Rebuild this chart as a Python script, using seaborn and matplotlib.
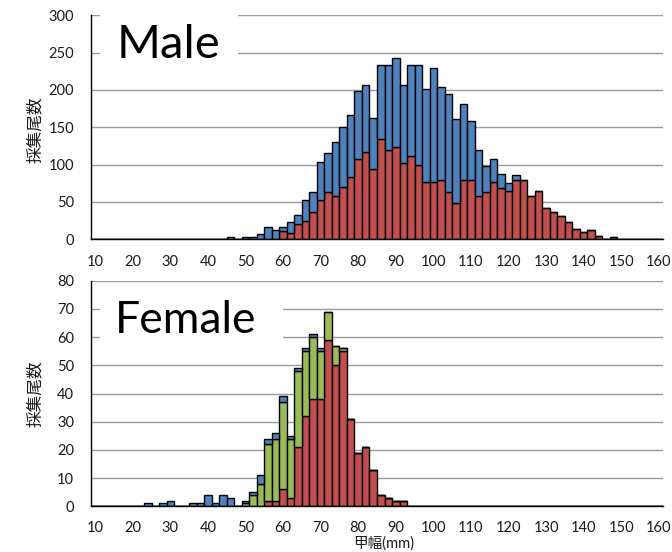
import numpy as np
import pandas as pd
import matplotlib
matplotlib.use("Agg")
import matplotlib.pyplot as plt
from matplotlib.patches import Rectangle
import seaborn as sns

# Carapace width classes: lower edge of each 2 mm bin, with catch counts
male_red_bins = [60, 62, 64, 66, 68, 70, 72, 74, 76, 78, 80, 82, 84, 86, 88, 90,
                 92, 94, 96, 98, 100, 102, 104, 106, 108, 110, 112, 114, 116, 118,
                 120, 122, 124, 126, 128, 130, 132, 134, 136, 138, 140, 142, 144,
                 146, 148, 152, 156]
male_red = [11, 9, 20, 25, 36, 52, 63, 58, 70, 83, 107, 117, 94, 135, 120, 124,
            102, 112, 99, 77, 77, 80, 64, 48, 80, 80, 58, 64, 77, 69,
            65, 80, 80, 58, 65, 42, 36, 31, 23, 14, 10, 12, 5,
            1, 3, 1, 1]

male_blue_bins = [22, 30, 34, 40, 42, 44, 46, 48, 50, 52, 54, 56, 58, 60, 62, 64,
                  66, 68, 70, 72, 74, 76, 78, 80, 82, 84, 86, 88, 90, 92, 94, 96,
                  98, 100, 102, 104, 106, 108, 110, 112, 114, 116, 118, 120, 122]
male_blue = [1, 1, 1, 1, 1, 1, 3, 1, 3, 3, 7, 17, 13, 6, 14, 12,
             27, 27, 51, 53, 72, 80, 84, 91, 90, 69, 99, 113, 119, 105, 122, 135,
             124, 152, 124, 130, 113, 101, 78, 61, 34, 30, 19, 10, 6]

female_red_bins = [56, 58, 60, 62, 64, 66, 68, 70, 72, 74, 76, 78, 80, 82, 84,
                   86, 88, 90, 92]
female_red = [2, 2, 6, 3, 21, 32, 38, 38, 59, 50, 55, 31, 19, 21, 13,
              4, 3, 2, 2]

female_green_bins = [50, 52, 54, 56, 58, 60, 62, 64, 66, 68, 70, 72, 74, 76]
female_green = [1, 4, 8, 20, 22, 31, 21, 27, 23, 22, 17, 10, 7, 1]

female_blue_bins = [24, 28, 30, 36, 38, 40, 42, 44, 46, 50, 52, 54, 56, 58,
                    60, 62, 64, 66, 68, 70]
female_blue = [1, 1, 2, 1, 1, 4, 1, 4, 3, 1, 1, 3, 2, 2,
               2, 1, 1, 1, 1, 1]

x_ticks = list(range(10, 161, 10))
male_y_ticks = list(range(0, 301, 50))
female_y_ticks = list(range(0, 81, 10))

palette = {"blue": "#4F81BD", "green": "#9BBB59", "red": "#C0504D"}


def frame(parts):
    rows = []
    for group, bins, counts in parts:
        for b, c in zip(bins, counts):
            rows.append({"width": b + 1, "count": c, "group": group})
    return pd.DataFrame(rows)


male_df = frame([("blue", male_blue_bins, male_blue),
                 ("red", male_red_bins, male_red)])
female_df = frame([("blue", female_blue_bins, female_blue),
                   ("green", female_green_bins, female_green),
                   ("red", female_red_bins, female_red)])

sns.set_style("white")
plt.rcParams["font.family"] = ["Lato", "Noto Sans CJK JP", "DejaVu Sans"]

W, H = 672, 552
fig = plt.figure(figsize=(W / 100, H / 100), dpi=100)


def px_axes(x0, x1, y_top, y_bot):
    return fig.add_axes([x0 / W, 1 - y_bot / H, (x1 - x0) / W, (y_bot - y_top) / H])


def px_box(x0, x1, y_top, y_bot):
    fig.patches.append(Rectangle((x0 / W, 1 - y_bot / H), (x1 - x0) / W,
                                 (y_bot - y_top) / H, transform=fig.transFigure,
                                 facecolor="white", edgecolor="none", zorder=1))


ax_m = px_axes(91.5, 662.5, 15.3, 239.3)
ax_f = px_axes(91.5, 662.5, 280.8, 506.2)

for ax, df, order, ymax, yticks in [
    (ax_m, male_df, ["blue", "red"], 300, male_y_ticks),
    (ax_f, female_df, ["blue", "green", "red"], 80, female_y_ticks),
]:
    sns.histplot(data=df, x="width", weights="count", hue="group",
                 hue_order=order, palette=palette, multiple="stack",
                 binwidth=2, binrange=(10, 162), alpha=1, edgecolor="black",
                 linewidth=1.0, legend=False, ax=ax)
    ax.set_xlim(10, 162)
    ax.set_ylim(0, ymax)
    ax.set_yticks(yticks)
    # tick marks on class boundaries, labels on class centres
    ax.set_xticks(x_ticks)
    ax.set_xticklabels([])
    ax.set_xticks([t + 1 for t in x_ticks], minor=True)
    ax.set_xticklabels([str(t) for t in x_ticks], minor=True)
    ax.tick_params(axis="x", which="major", direction="out", length=4.5,
                   width=1, color="black")
    ax.tick_params(axis="x", which="minor", length=0, pad=11, labelsize=10.5,
                   labelcolor="#1a1a1a")
    ax.tick_params(axis="y", direction="out", length=4.5, width=1,
                   color="black", pad=8, labelsize=10.5, labelcolor="#1a1a1a")
    ax.set_axisbelow(True)
    ax.yaxis.grid(True, color="#9a9a9a", linewidth=1)
    ax.xaxis.grid(False)
    for side in ("top", "right"):
        ax.spines[side].set_visible(False)
    for side in ("left", "bottom"):
        ax.spines[side].set_color("black")
        ax.spines[side].set_linewidth(1)
    ax.set_xlabel("")
    ax.set_ylabel("")

fig.text(35 / W, 1 - 130 / H, "採集尾数", rotation=90, ha="center", va="center",
         fontsize=12, color="#1a1a1a")
fig.text(35 / W, 1 - 394 / H, "採集尾数", rotation=90, ha="center", va="center",
         fontsize=12, color="#1a1a1a")
fig.text(384 / W, 1 - 536 / H, "甲幅(mm)", ha="center", va="top", fontsize=10.5,
         color="#1a1a1a")

# white panels behind the sex labels
px_box(100, 238, 4, 76)
px_box(100, 283, 290, 350)
fig.text(117 / W, 1 - 58 / H, "Male", fontsize=34, va="baseline", ha="left",
         color="black", zorder=3)
fig.text(115 / W, 1 - 333 / H, "Female", fontsize=32, va="baseline", ha="left",
         color="black", zorder=3)

fig.savefig("out.png", dpi=100)
